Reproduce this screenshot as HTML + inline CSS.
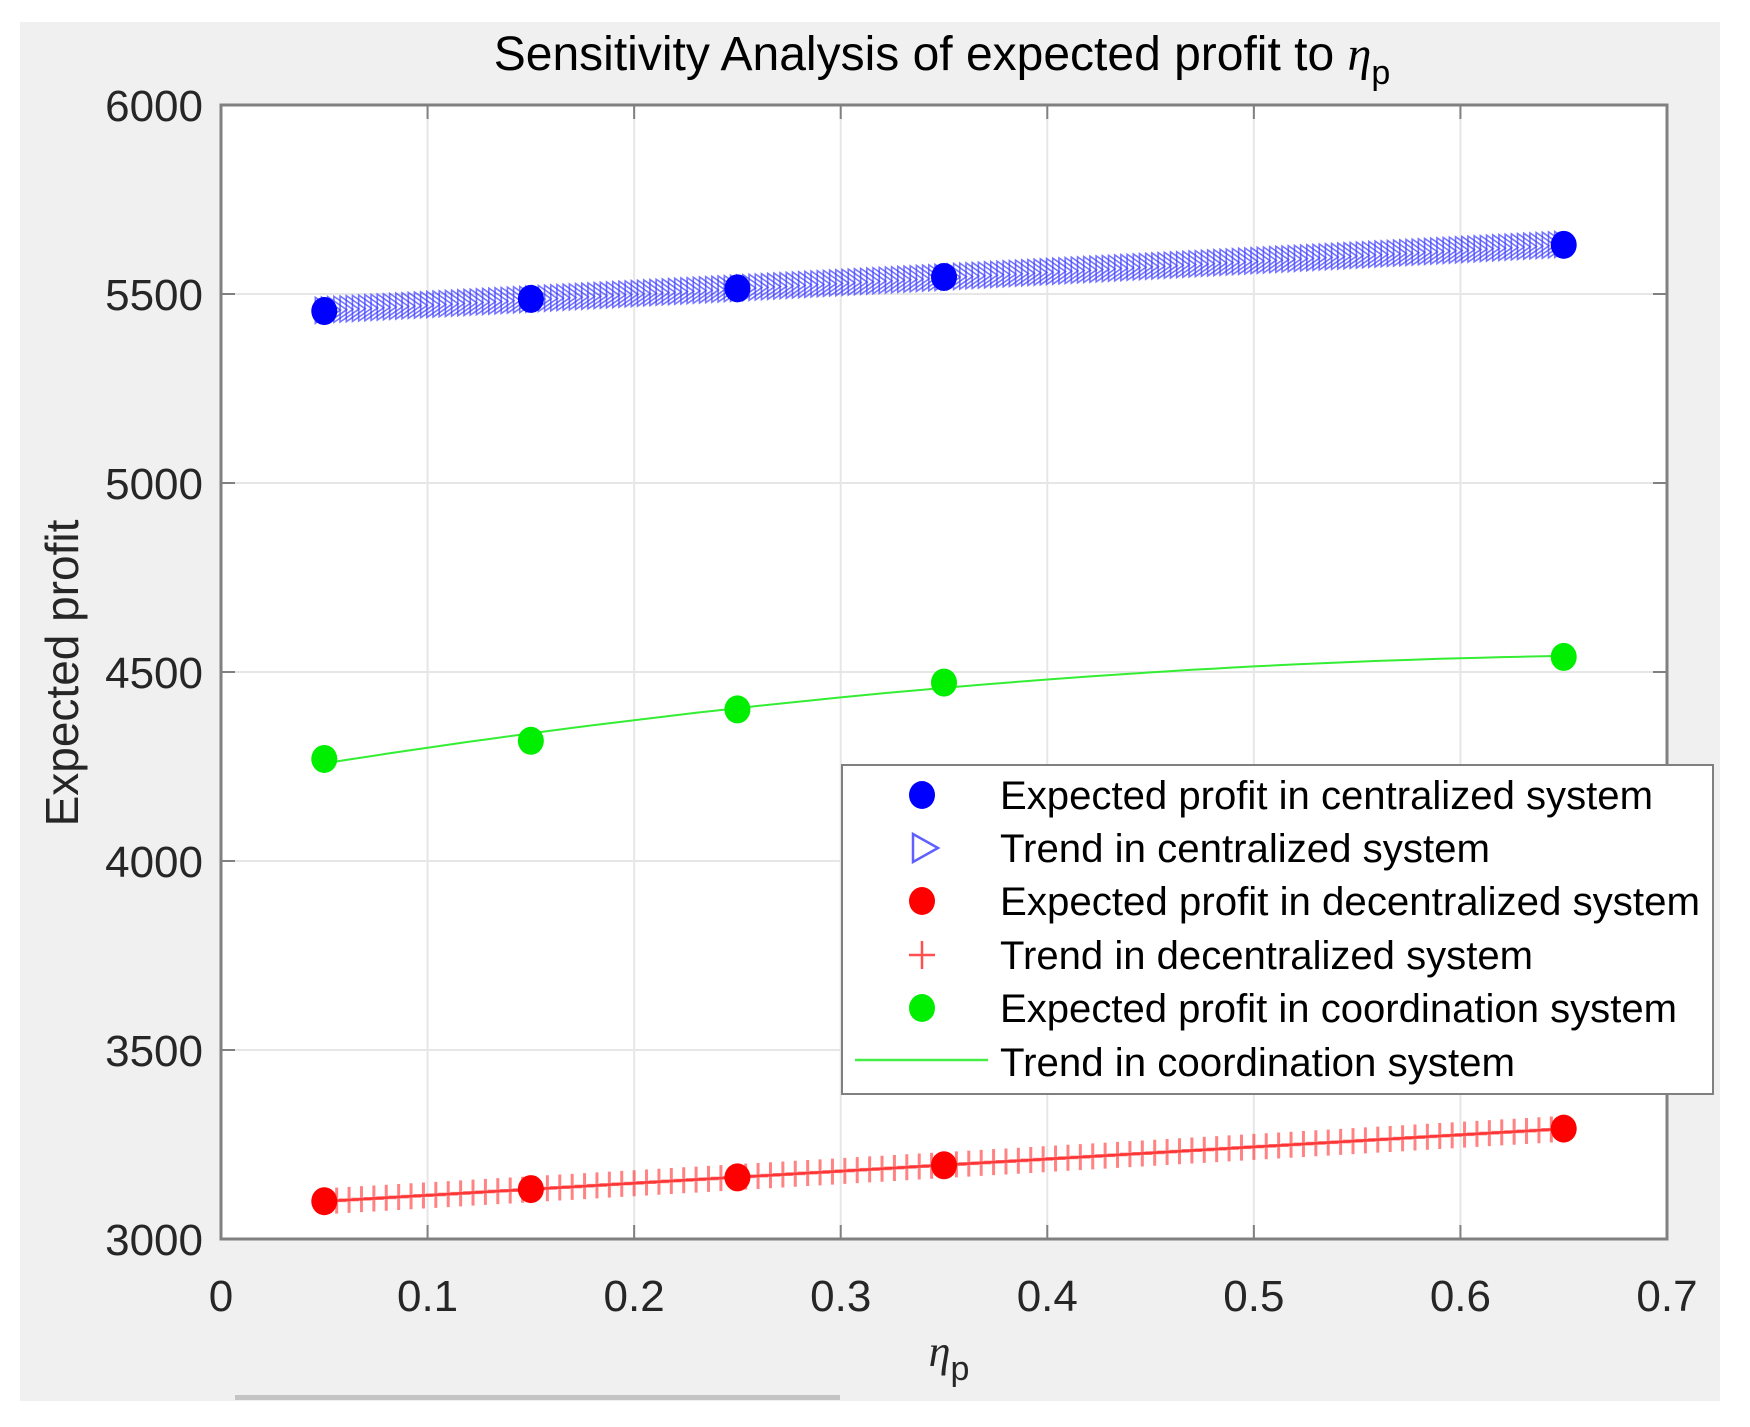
<!DOCTYPE html>
<html><head><meta charset="utf-8"><style>
html,body{margin:0;padding:0;background:#fff;}
svg{display:block;font-family:"Liberation Sans",sans-serif;}
</style></head><body>
<svg id="chart" width="1750" height="1427" viewBox="0 0 1750 1427" xmlns="http://www.w3.org/2000/svg">
<rect x="20" y="22" width="1700" height="1379" fill="#f0f0f0"/>
<rect x="235" y="1395" width="605" height="5" fill="#c4c4c4"/>
<rect x="221" y="105" width="1446" height="1134" fill="#ffffff"/>
<g id="grid"></g>
<g id="series"></g>
<rect x="221" y="105" width="1446" height="1134" fill="none" stroke="#808080" stroke-width="3"/>
<g id="ticks"></g>
<text x="942" y="70" font-size="48" fill="#000" text-anchor="middle">Sensitivity Analysis of expected profit to <tspan font-family="Liberation Serif" font-style="italic">η</tspan><tspan font-size="34" dy="14">p</tspan></text>
<text x="949" y="1366" font-size="44" fill="#262626" text-anchor="middle"><tspan font-family="Liberation Serif" font-style="italic">η</tspan><tspan font-size="34" dy="14">p</tspan></text>
<text transform="translate(78,673) rotate(-90)" font-size="46" fill="#262626" text-anchor="middle">Expected profit</text>
<g>
<rect x="842" y="765" width="871" height="329" fill="#fff" stroke="#808080" stroke-width="2"/>
<g id="legend-items"></g>
</g>
</svg>
<script>
const xTicks=[0,0.1,0.2,0.3,0.4,0.5,0.6,0.7];
const yTicks=[3000,3500,4000,4500,5000,5500,6000];
const xValues=[0.05,0.15,0.25,0.35,0.65];
const centralized=[5455,5487,5515,5545,5630];
const decentralized=[3100,3132,3163,3195,3292];
const coordination=[4270,4318,4401,4472,4540];
const legendLabels=["Expected profit in centralized system","Trend in centralized system","Expected profit in decentralized system","Trend in decentralized system","Expected profit in coordination system","Trend in coordination system"];

const L=221,R=1667,T=105,B=1239;
const xs=v=>L+(v-0)/0.7*(R-L);
const ys=v=>B-(v-3000)/3000*(B-T);
const NS="http://www.w3.org/2000/svg";
function mk(tag,attrs,parent){const e=document.createElementNS(NS,tag);for(const k in attrs)e.setAttribute(k,attrs[k]);parent.appendChild(e);return e;}
const grid=document.getElementById('grid'),ticks=document.getElementById('ticks'),series=document.getElementById('series');
xTicks.forEach(t=>{
  const x=xs(t);
  if(t>0&&t<0.7){const g=mk('line',{x1:x,x2:x,y1:T,y2:B,stroke:'#e6e6e6','stroke-width':2},grid);
  
  }
  const a=mk('line',{x1:x,x2:x,y1:B,y2:B-14,stroke:'#808080','stroke-width':2},ticks);
  
  
  const b=mk('line',{x1:x,x2:x,y1:T,y2:T+14,stroke:'#808080','stroke-width':2},ticks);
  
  
  const l=mk('text',{x:x,y:1311,'font-size':44,fill:'#262626','text-anchor':'middle'},ticks);
  l.textContent=String(t);
  
  
});
yTicks.forEach(t=>{
  const y=ys(t);
  if(t>3000&&t<6000){const g=mk('line',{x1:L,x2:R,y1:y,y2:y,stroke:'#e6e6e6','stroke-width':2},grid);
  
  }
  const a=mk('line',{x1:L,x2:L+14,y1:y,y2:y,stroke:'#808080','stroke-width':2},ticks);
  
  
  const b=mk('line',{x1:R,x2:R-14,y1:y,y2:y,stroke:'#808080','stroke-width':2},ticks);
  
  
  const l=mk('text',{x:203,y:y+16,'font-size':44,fill:'#262626','text-anchor':'end'},ticks);
  l.textContent=String(t);
  
  
});
function linfit(xv,yv){const n=xv.length;let sx=0,sy=0,sxx=0,sxy=0;for(let i=0;i<n;i++){sx+=xv[i];sy+=yv[i];sxx+=xv[i]*xv[i];sxy+=xv[i]*yv[i];}const m=(n*sxy-sx*sy)/(n*sxx-sx*sx);return [m,(sy-m*sx)/n];}
function quadfit(xv,yv){
  let S=[0,0,0,0,0],Ty=[0,0,0];
  for(let i=0;i<xv.length;i++){let p=1;for(let k=0;k<5;k++){S[k]+=p;if(k<3)Ty[k]+=p*yv[i];p*=xv[i];}}
  const A=[[S[0],S[1],S[2],Ty[0]],[S[1],S[2],S[3],Ty[1]],[S[2],S[3],S[4],Ty[2]]];
  for(let i=0;i<3;i++){for(let j=i+1;j<3;j++){const f=A[j][i]/A[i][i];for(let k=i;k<4;k++)A[j][k]-=f*A[i][k];}}
  const c=[0,0,0];for(let i=2;i>=0;i--){let s=A[i][3];for(let k=i+1;k<3;k++)s-=A[i][k]*c[k];c[i]=s/A[i][i];}
  return x=>c[0]+c[1]*x+c[2]*x*x;
}
const x0=xValues[0],x1=xValues[xValues.length-1];
// centralized trend triangles
const [mc,cc]=linfit(xValues,centralized);
for(let x=x0;x<=x1+1e-9;x+=0.003){
  const px=xs(x),py=ys(mc*x+cc);
  const p=mk('polygon',{points:`${px-9},${py-13} ${px+10},${py} ${px-9},${py+13}`,fill:'none',stroke:'#3a3aff','stroke-width':1.6,'stroke-opacity':0.7},series);
  
  
}
// decentralized trend
const [md,cd]=linfit(xValues,decentralized);
const dl=mk('line',{x1:xs(x0),y1:ys(md*x0+cd),x2:xs(x1),y2:ys(md*x1+cd),stroke:'#ff2020','stroke-width':2.5,'stroke-opacity':0.8},series);


for(let x=x0;x<=x1+1e-9;x+=0.006){
  const px=xs(x),py=ys(md*x+cd);
  const p=mk('path',{d:`M${px},${py-13}V${py+13}M${px-10},${py}H${px+10}`,stroke:'#ff3030','stroke-width':3,'stroke-opacity':0.6,fill:'none'},series);
  
  
}
// coordination trend
const f=quadfit(xValues,coordination);
let d='';
for(let i=0;i<=60;i++){const x=x0+(x1-x0)*i/60;d+=(i?'L':'M')+xs(x).toFixed(1)+','+ys(f(x)).toFixed(1);}
const gl=mk('path',{d:d,stroke:'#33ee33','stroke-width':2,fill:'none'},series);


// data points
[[centralized,'#0000ff','centralized-point'],[decentralized,'#ff0000','decentralized-point'],[coordination,'#00ee00','coordination-point']].forEach(([arr,col,name])=>{
  arr.forEach((v,i)=>{
    const c=mk('ellipse',{cx:xs(xValues[i]),cy:ys(v),rx:13,ry:14,fill:col},series);
    
    
  });
});
// legend
const lg=document.getElementById('legend-items');
const rowY=[795,848,901,955,1008,1062];
const mx=922;
legendLabels.forEach((lab,i)=>{
  const y=rowY[i];
  let m;
  if(i===0||i===2||i===4){m=mk('ellipse',{cx:mx,cy:y,rx:13,ry:14,fill:['#0000ff','','#ff0000','','#00ee00'][i]},lg);}
  else if(i===1){m=mk('polygon',{points:`${mx-9},${y-14} ${mx+16},${y} ${mx-9},${y+14}`,fill:'none',stroke:'#6060ff','stroke-width':2.5},lg);}
  else if(i===3){m=mk('path',{d:`M${mx},${y-14}V${y+14}M${mx-13},${y}H${mx+13}`,stroke:'#ff5050','stroke-width':2.5,fill:'none'},lg);}
  else {m=mk('line',{x1:855,x2:988,y1:y-2,y2:y-2,stroke:'#44ee44','stroke-width':2.5},lg);}
  
  
  const widths=[653,490,700,533,677,515];
  const t=mk('text',{x:1000,y:y+14,'font-size':40,fill:'#000',textLength:widths[i],lengthAdjust:'spacingAndGlyphs'},lg);
  t.textContent=lab;
  
  
});
</script>
</body></html>
